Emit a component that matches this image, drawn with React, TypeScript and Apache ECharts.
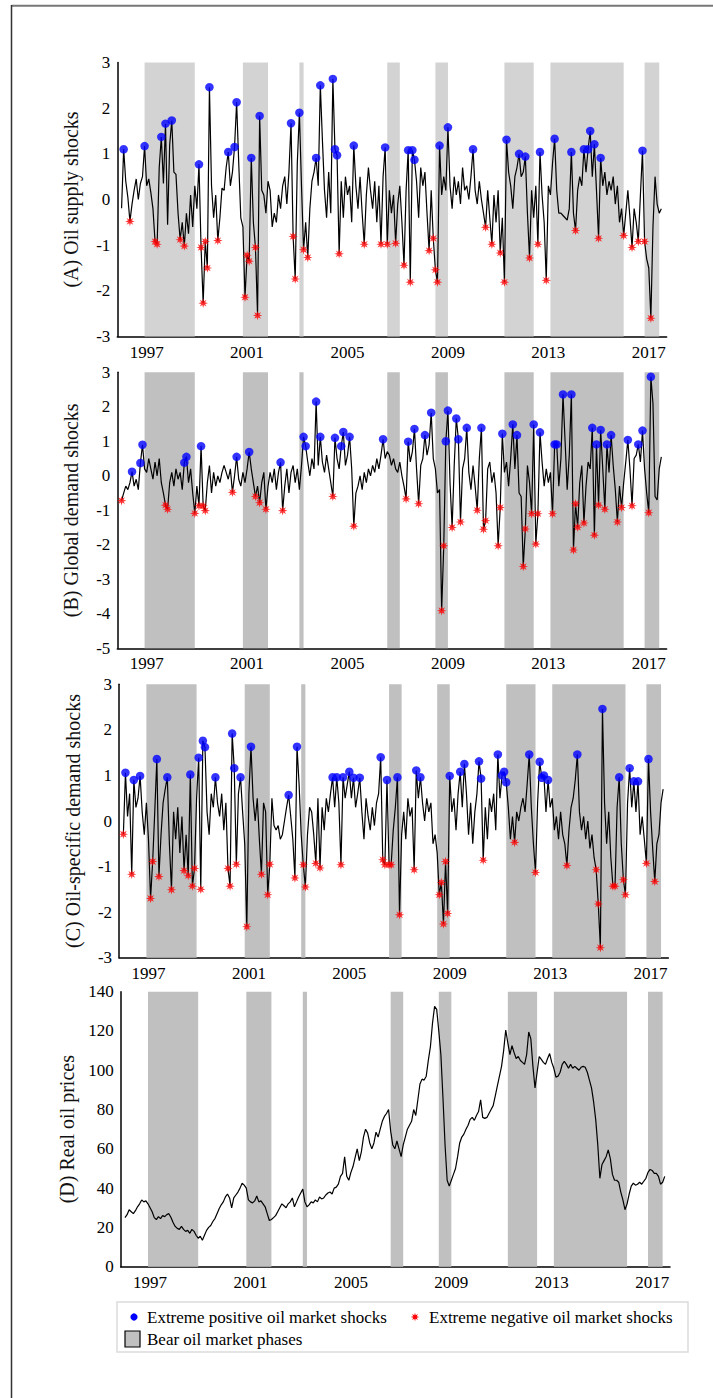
import React, { useEffect, useRef } from "react";
import * as echarts from "echarts";

// ---------------- DATA ----------------
const START_YEAR = 1996; // monthly data, index 0 = 1996:01
const yearTicks = [1997, 2001, 2005, 2009, 2013, 2017];

// Bear oil market phases (start month, end month)
const bearPhases: [string, string][] = [
  ["1996-12", "1998-12"],
  ["2000-11", "2001-11"],
  ["2003-02", "2003-04"],
  ["2006-08", "2007-02"],
  ["2008-07", "2009-01"],
  ["2011-04", "2012-06"],
  ["2013-02", "2016-01"],
  ["2016-11", "2017-06"],
];

// (A) Oil supply shocks, 1996:01 - 2017:07
const oilSupply = [
  -0.19, 1.10, 0.4, 0.05, -0.48, -0.1, 0.2, 0.45, 0.0, 0.35, 0.5, 1.17,
  0.3, 0.45, 0.15, -0.2, -0.92, -0.98, 0.7, 1.37, 0.35, 1.66, -0.55, 1.2,
  1.73, 0.6, 0.55, -0.3, -0.88, -0.5, -1.02, -0.3, -0.75, 0.1, -0.6, 0.3,
  -0.2, 0.77, -1.05, -2.27, -0.92, -1.5, 2.46, 0.3, -0.4, 0.1, -0.9, -0.4,
  0.25, 0.2, 0.7, 1.04, 0.3, 0.6, 1.15, 2.13, 0.8, -0.4, -0.6, -2.14,
  -1.22, -1.35, 0.91, -0.5, -1.05, -2.54, 1.83, 0.2, 0.1, -0.3, 0.4, 0.2,
  -0.6, -0.3, -0.5, 0.1, -0.2, 0.3, 0.5, -0.1, 0.6, 1.67, -0.81, -1.74,
  0.8, 1.90, 0.3, -1.1, -0.5, -1.27, -0.2, 0.4, 0.6, 0.91, 0.3, 2.50,
  1.3, 0.2, -0.4, 0.6, -0.3, 2.64, 1.10, 0.97, -1.19, 0.4, -0.4, 0.5,
  0.1, 0.3, -0.5, 1.18, 0.3, -0.2, 0.5, -0.3, -0.98, 0.1, 0.7, 0.2,
  -0.2, 0.4, -0.5, 0.3, -0.98, 0.5, 1.14, -0.98, 0.2, -0.3, 0.1, -0.96,
  -0.1, 0.3, -0.5, -1.44, 0.2, 1.08, -1.81, 1.08, 0.87, 0.4, -0.4, 0.7,
  0.3, 0.6, -0.3, -1.12, 0.2, -0.85, -1.54, -1.81, 1.18, 0.1, 0.5, 0.2,
  1.58, 0.3, -0.2, 0.5, 0.1, 0.4, -0.1, 0.7, 0.2, 0.3, 0.0, 0.5,
  1.10, 0.2, -0.1, 0.4, 0.0, -0.3, -0.61, 0.2, -0.4, -0.98, 0.1, -0.5,
  0.2, -1.17, -0.4, -1.81, 1.31, 0.6, 0.3, -0.2, 0.5, 0.7, 1.0, 0.5,
  0.6, 0.94, -0.3, -1.28, 0.2, -0.4, 0.3, -0.98, 1.04, 0.1, -0.5, -1.77,
  0.3, 0.1, 0.8, 1.33, 0.2, -0.3, -0.3, -0.35, -0.4, -0.45, -0.2, 1.04,
  -0.3, -0.68, 0.2, 0.5, 0.3, 1.10, 0.6, 1.10, 1.50, 0.5, 1.21, 0.2,
  -0.85, 0.91, 0.3, 0.6, 0.1, 0.4, 0.2, 0.5, -0.1, 0.3, -0.5, -0.2,
  -0.79, -0.3, 0.2, -0.4, -1.05, -0.2, -0.5, -0.92, 0.1, 1.07, -0.92, -1.3,
  -1.5, -2.6, -0.6, 0.5, -0.1, -0.3, -0.2,
];
const oilSupplyPosIdx = [1, 11, 19, 21, 24, 37, 42, 51, 54, 55, 62, 66, 81, 85, 93, 95, 101, 102, 103, 111, 126, 137, 139, 140, 152, 156, 168, 184, 190, 193, 200, 207, 215, 221, 223, 224, 226, 229, 249];
const oilSupplyNegIdx = [4, 16, 17, 28, 30, 38, 39, 40, 41, 46, 59, 60, 61, 64, 65, 82, 83, 87, 89, 104, 116, 124, 127, 131, 135, 138, 147, 149, 150, 151, 174, 177, 181, 183, 195, 199, 203, 217, 228, 240, 244, 247, 250, 253];

// (B) Global demand shocks
const globalDemand = [
  -0.72, -0.5, -0.3, -0.4, -0.2, 0.12, -0.3, -0.1, -0.4, 0.37, 0.9, 0.2,
  0.1, 0.5, 0.2, -0.1, 0.4, 0.0, 0.5, -0.2, -0.5, -0.85, -0.97, -0.2,
  0.1, -0.3, 0.2, -0.1, 0.1, -0.4, 0.38, 0.55, -0.2, 0.2, -0.5, -1.09,
  -0.3, -0.87, 0.86, -0.87, -1.01, -0.2, 0.3, -0.5, 0.1, -0.3, 0.0, -0.2,
  0.1, 0.3, 0.1, -0.1, 0.2, -0.48, 0.0, 0.55, -0.1, -0.3, 0.1, -0.2,
  0.2, 0.69, 0.2, -0.2, -0.6, -0.3, -0.78, -0.2, 0.1, -0.97, -0.3, 0.1,
  -0.2, 0.2, -0.4, 0.1, 0.39, -1.01, -0.3, 0.2, -0.5, 0.1, 0.3, -0.2,
  0.2, -0.4, 0.3, 1.13, 0.86, 0.4, 0.0, 0.5, 0.2, 2.15, 0.3, 1.13,
  0.4, 0.1, 0.6, 0.2, -0.2, -0.6, 1.10, 0.5, 0.2, 0.86, 1.27, 0.3,
  0.6, 1.13, 0.2, -1.46, -0.5, -0.3, 0.0, -0.4, 0.1, -0.2, 0.2, 0.0,
  0.3, 0.1, 0.5, 0.2, 0.6, 1.06, 0.5, 0.7, 0.6, 0.3, 0.5, 0.2,
  0.1, 0.4, 0.0, -0.3, -0.67, 0.99, 0.4, 0.7, 1.36, 0.2, -0.81, 0.3,
  0.5, 1.18, 0.6, 0.9, 1.83, 0.5, 0.2, -0.5, -0.4, -3.91, -2.03, 1.0,
  1.89, -0.2, -1.5, 0.3, 1.66, 1.06, -1.34, 0.2, 0.5, 1.39, 0.1, -0.4,
  0.3, -0.3, -1.0, 0.5, 1.39, -1.55, -1.3, 0.2, 0.4, -0.2, 0.1, -0.5,
  -2.03, -0.92, 1.22, 0.1, 0.4, -0.3, 0.5, 1.49, 0.2, 1.18, -0.5, -0.6,
  -2.63, -1.54, 0.3, -0.2, -1.1, 1.49, -1.98, -1.1, 1.26, 0.4, -0.3, 0.2,
  -0.2, 0.1, -1.1, 0.91, 0.91, -0.3, 0.5, 2.36, 1.0, -0.4, 0.6, 2.36,
  -2.15, -0.81, -1.49, -0.2, 0.3, -1.37, -0.3, 0.4, 0.2, 1.39, -1.72, 0.91,
  -0.85, 1.33, 0.2, -0.97, 0.91, 0.1, 1.18, 0.3, -0.4, -1.34, -0.3, -0.92,
  -0.2, 0.4, 1.04, 0.2, -0.87, 0.5, 0.6, 0.91, 0.4, 1.31, 0.2, -0.5,
  -1.07, 2.87, 2.1, -0.6, -0.7, 0.2, 0.55,
];
const globalDemandPosIdx = [5, 9, 10, 30, 31, 38, 55, 61, 76, 87, 88, 93, 95, 102, 105, 106, 109, 125, 137, 140, 145, 148, 155, 156, 160, 161, 165, 172, 182, 187, 189, 197, 200, 207, 208, 211, 215, 225, 227, 229, 232, 234, 242, 247, 249, 253];
const globalDemandNegIdx = [0, 21, 22, 35, 37, 39, 40, 53, 64, 66, 69, 77, 101, 111, 136, 142, 153, 154, 158, 162, 170, 173, 174, 180, 181, 192, 193, 196, 198, 199, 206, 216, 217, 218, 221, 226, 228, 231, 237, 239, 244, 252];

// (C) Oil-specific demand shocks
const oilSpecific = [
  -0.29, 1.06, 0.1, 0.6, -1.17, 0.9, 0.3, 0.5, 0.99, 0.2, -0.3, 0.4,
  -0.4, -1.7, -0.89, 0.2, 1.36, -1.22, -0.3, 0.4, 0.7, 0.96, -0.5, -1.51,
  0.2, -0.4, 0.3, -0.7, 0.1, -1.09, -0.3, -1.2, 1.02, -1.43, -1.04, 0.5,
  1.39, -1.5, 1.76, 1.62, 0.2, -0.3, 0.6, 0.3, 0.96, 0.4, 0.1, 0.6,
  -0.2, 0.4, -1.04, -1.43, 1.92, 1.16, -0.95, 0.6, 0.96, 0.2, -0.5, -2.32,
  0.6, 1.63, 0.5, 0.0, 0.5, -0.4, -1.17, 0.4, 0.2, -1.62, -0.95, 0.5,
  -0.1, -0.2, -0.1, -0.4, -0.3, 0.0, 0.3, 0.57, 0.1, -0.4, -1.25, 1.63,
  0.8, -0.3, -0.96, -1.45, -0.3, 0.3, 0.2, -0.3, -0.93, 0.5, -1.03, 0.3,
  -0.2, 0.5, 0.2, 0.6, 0.96, 0.3, 0.96, 0.4, -0.96, 0.96, 0.5, 0.8,
  1.08, 0.5, 0.95, 0.3, 0.6, 0.95, 0.2, -0.4, 0.5, 0.1, -0.2, 0.3,
  -0.1, 0.4, 0.6, 1.4, -0.85, -0.96, 0.9, -0.96, -0.96, -0.2, 0.3, 0.96,
  -2.06, -0.3, 0.2, -0.4, 0.5, 0.1, 0.3, -1.07, 1.11, 0.5, 0.96, 0.4,
  0.0, 0.5, 0.2, 0.4, -0.5, -0.3, -0.7, -1.62, -1.35, -2.26, -0.89, -2.03,
  0.99, 0.2, 0.5, -0.2, 0.6, 1.08, 0.3, 1.25, 0.6, -0.3, 0.4, -0.5,
  0.2, 0.6, 1.31, 0.93, -0.86, 0.3, -0.4, 0.5, 0.2, 0.6, -0.2, 1.46,
  0.5, 1.0, 1.08, 0.85, 0.3, -0.4, 0.1, -0.47, 0.2, 0.0, 0.3, 0.5,
  0.2, 0.8, 1.46, 0.3, -0.5, -1.13, 0.4, 1.3, 0.95, 1.0, 0.2, 0.9,
  0.3, 0.5, -0.2, 0.1, -0.4, 0.2, -0.3, -0.5, -0.98, -0.2, 0.3, 0.5,
  0.9, 1.46, 0.2, -0.2, 0.1, -0.4, 0.0, -0.6, -0.3, -0.8, -1.07, -1.82,
  -2.78, 2.46, 0.4, -0.5, 0.2, -0.8, -1.43, -1.43, 0.3, 0.96, -0.5, -1.29,
  -1.62, 0.4, 1.16, 0.3, 0.87, 0.2, 0.87, -0.3, 0.1, -0.4, -0.93, 1.36,
  0.2, -0.6, -1.33, -0.5, -0.3, 0.4, 0.7,
];
const oilSpecificPosIdx = [1, 5, 8, 16, 21, 32, 36, 38, 39, 44, 52, 53, 56, 61, 79, 83, 100, 102, 105, 108, 110, 113, 123, 126, 131, 140, 142, 156, 161, 163, 170, 171, 179, 181, 182, 183, 194, 199, 200, 201, 203, 217, 229, 237, 242, 244, 246, 251];
const oilSpecificNegIdx = [0, 4, 13, 14, 17, 23, 29, 31, 33, 34, 37, 50, 51, 54, 59, 66, 69, 70, 82, 86, 87, 92, 94, 104, 124, 125, 127, 128, 132, 139, 151, 152, 153, 154, 155, 172, 187, 197, 212, 226, 227, 228, 234, 235, 239, 240, 250, 254];

// (D) Real oil prices
const realOilPrice = [
  25, 26.5, 29, 28, 27, 28.5, 30.5, 32, 34, 33, 33.5, 32,
  30, 28, 25, 24, 25.5, 24.5, 26, 25.5, 26.5, 27, 25, 22.5,
  20.5, 19.5, 19, 20.5, 19, 18, 18.5, 17, 19, 18, 16, 14.5,
  15.5, 13.5, 16, 18.5, 20, 21, 23, 24.5, 27, 29.5, 31.5, 33,
  35.5, 37, 35, 30, 35, 36.5, 38, 40, 42.5, 41.5, 40, 34,
  33, 32.5, 33.5, 36, 33, 33.5, 32, 30.5, 27, 23.5, 24, 25,
  26, 28, 30, 32, 31, 30, 32, 33, 35, 30.5, 33, 35.5,
  37.5, 39.5, 33, 30.5, 31.5, 33, 32.5, 34, 33, 35.5, 34.5, 35,
  36.5, 37.5, 38, 37, 40, 40.5, 42, 46, 47.5, 56, 46, 44,
  48, 51, 55.5, 60, 54, 58.5, 66, 70, 68, 63, 60, 63,
  68.5, 66, 70, 74, 76.5, 78, 80, 69, 62, 60, 64, 60,
  56, 62, 66, 70, 72, 74, 80, 77, 85, 93, 95.5, 95,
  97, 105, 112, 124, 132.5, 131, 120, 108, 86, 62, 44, 41,
  44, 47, 50, 56, 63, 66, 67.5, 70, 72, 75, 76, 74.5,
  77, 79, 85, 76, 75.5, 76, 78, 80, 82, 87, 92, 97,
  102, 110, 120.5, 114, 108, 112.5, 109, 106, 107, 105, 104, 103,
  108, 119.5, 116, 102, 91, 99, 107, 105.5, 104, 103, 106, 108.5,
  104, 101, 96.5, 97, 99, 103, 104.5, 103, 101, 103, 101, 102,
  101, 100, 101.5, 102, 101.5, 99, 95, 91, 84, 75, 62, 45,
  52, 54, 56, 59.5, 55, 47, 44, 44, 43, 38, 34, 29,
  32, 37, 41, 42.5, 41.5, 42, 43, 42, 43.5, 45, 48, 49.5,
  49, 47.5, 47.5, 46, 42, 43, 46,
];

// ---------------- HELPERS ----------------
const FONT = "Liberation Serif";
const monthToYear = (i: number) => START_YEAR + i / 12;
const ymToYear = (s: string) => {
  const [y, m] = s.split("-").map(Number);
  return y + (m - 1) / 12;
};
const toPairs = (arr: number[]) => arr.map((v, i) => [monthToYear(i), v]);
const pick = (arr: number[], idx: number[]) => idx.map((i) => [monthToYear(i), arr[i]]);

const STAR_PATH =
  "path://M100 50 L70.33 58.42 L85.36 85.36 L58.42 70.33 L50 100 L41.58 70.33 L14.64 85.36 L29.67 58.42 L0 50 L29.67 41.58 L14.64 14.64 L41.58 29.67 L50 0 L58.42 29.67 L85.36 14.64 L70.33 41.58 Z";

const starPoints = (cx: number, cy: number, R: number) => {
  const pts: number[][] = [];
  for (let k = 0; k < 16; k++) {
    const a = (k * Math.PI) / 8;
    const r = k % 2 === 0 ? R : R * 0.44;
    pts.push([cx + r * Math.cos(a), cy + r * Math.sin(a)]);
  }
  return pts;
};

const X_MIN = 1995.83;
const X_MAX = 2017.71;

const panels = [
  {
    name: "(A) Oil supply shocks",
    grid: { left: 117.3, top: 62.5, width: 549.3, height: 274 },
    min: -3, max: 3, interval: 1,
    data: oilSupply, pos: oilSupplyPosIdx, neg: oilSupplyNegIdx,
    band: "#d3d3d3",
  },
  {
    name: "(B) Global demand shocks",
    grid: { left: 117.3, top: 372.3, width: 549.3, height: 276 },
    min: -5, max: 3, interval: 1,
    data: globalDemand, pos: globalDemandPosIdx, neg: globalDemandNegIdx,
    band: "#c0c0c0",
  },
  {
    name: "(C) Oil-specific demand shocks",
    grid: { left: 119.1, top: 684.3, width: 549.3, height: 273.4 },
    min: -3, max: 3, interval: 1,
    data: oilSpecific, pos: oilSpecificPosIdx, neg: oilSpecificNegIdx,
    band: "#c0c0c0",
  },
  {
    name: "(D) Real oil prices",
    grid: { left: 120.7, top: 991.7, width: 549.3, height: 275 },
    min: 0, max: 140, interval: 20,
    data: realOilPrice, pos: null as number[] | null, neg: null as number[] | null,
    band: "#c0c0c0",
  },
];

function buildOption() {
  const grid = panels.map((p) => ({ ...p.grid }));
  const xAxis = panels.map((p, i) => ({
    type: "value",
    gridIndex: i,
    min: X_MIN,
    max: X_MAX,
    axisLine: { show: true, onZero: false, lineStyle: { color: "#000", width: 1.5 } },
    axisTick: { show: false },
    splitLine: { show: false },
    axisLabel: {
      customValues: yearTicks,
      formatter: (v: number) => String(Math.round(v)),
      fontFamily: FONT,
      fontSize: 17,
      color: "#000",
      margin: 7,
    },
  }));
  const yAxis = panels.map((p, i) => ({
    type: "value",
    gridIndex: i,
    min: p.min,
    max: p.max,
    interval: p.interval,
    axisLine: { show: true, onZero: false, lineStyle: { color: "#000", width: 1.5 } },
    axisTick: { show: false },
    splitLine: { show: false },
    axisLabel: { fontFamily: FONT, fontSize: 17, color: "#000", margin: 7 },
    name: p.name,
    nameLocation: "middle",
    nameRotate: 90,
    nameGap: 36,
    nameTextStyle: { fontFamily: FONT, fontSize: 20, color: "#111" },
  }));
  const series: any[] = [];
  panels.forEach((p, i) => {
    series.push({
      type: "line",
      xAxisIndex: i,
      yAxisIndex: i,
      data: toPairs(p.data),
      symbol: "none",
      showSymbol: false,
      lineStyle: { color: "#000", width: 1.2 },
      z: 3,
      silent: true,
      markArea: {
        silent: true,
        itemStyle: { color: p.band },
        data: bearPhases.map(([s, e]) => [{ xAxis: ymToYear(s) }, { xAxis: ymToYear(e) }]),
      },
    });
    if (p.pos) {
      series.push({
        type: "scatter",
        xAxisIndex: i,
        yAxisIndex: i,
        data: pick(p.data, p.pos),
        symbol: "circle",
        symbolSize: 8.5,
        itemStyle: { color: "#0000ff" },
        z: 4,
        silent: true,
      });
    }
    if (p.neg) {
      series.push({
        type: "scatter",
        xAxisIndex: i,
        yAxisIndex: i,
        data: pick(p.data, p.neg),
        symbol: STAR_PATH,
        symbolSize: 9.5,
        itemStyle: { color: "#ff0000" },
        z: 4,
        silent: true,
      });
    }
  });

  const graphic = [
    { type: "line", shape: { x1: 11.5, y1: 5.7, x2: 713, y2: 5.7 }, style: { stroke: "#777", lineWidth: 2 } },
    { type: "line", shape: { x1: 11.5, y1: 5, x2: 11.5, y2: 1398 }, style: { stroke: "#333", lineWidth: 1.5 } },
    { type: "rect", shape: { x: 117, y: 1302, width: 571, height: 50 }, style: { fill: "#fff", stroke: "#dcdcdc", lineWidth: 1.5 } },
    { type: "circle", shape: { cx: 134, cy: 1317, r: 3.6 }, style: { fill: "#0000ff" } },
    { type: "text", x: 147, y: 1317, style: { text: "Extreme positive oil market shocks", fontFamily: FONT, fontSize: 17, fill: "#000", verticalAlign: "middle" } },
    { type: "polygon", shape: { points: starPoints(415, 1317, 4.2) }, style: { fill: "#ff0000" } },
    { type: "text", x: 429, y: 1317, style: { text: "Extreme negative oil market shocks", fontFamily: FONT, fontSize: 17, fill: "#000", verticalAlign: "middle" } },
    { type: "rect", shape: { x: 125, y: 1331, width: 15, height: 16 }, style: { fill: "#c0c0c0", stroke: "#000", lineWidth: 1.2 } },
    { type: "text", x: 147, y: 1339, style: { text: "Bear oil market phases", fontFamily: FONT, fontSize: 17, fill: "#000", verticalAlign: "middle" } },
  ];

  return {
    animation: false,
    backgroundColor: "#fff",
    textStyle: { fontFamily: FONT },
    grid,
    xAxis,
    yAxis,
    series,
    graphic,
  };
}

export default function App() {
  const ref = useRef<HTMLDivElement>(null);
  useEffect(() => {
    if (!ref.current) return;
    const chart = echarts.init(ref.current, null, { renderer: "svg" });
    chart.setOption(buildOption() as any);
    return () => chart.dispose();
  }, []);
  return (
    <div
      ref={ref}
      style={{ position: "absolute", left: 0, top: 0, width: 713, height: 1398 }}
    />
  );
}
